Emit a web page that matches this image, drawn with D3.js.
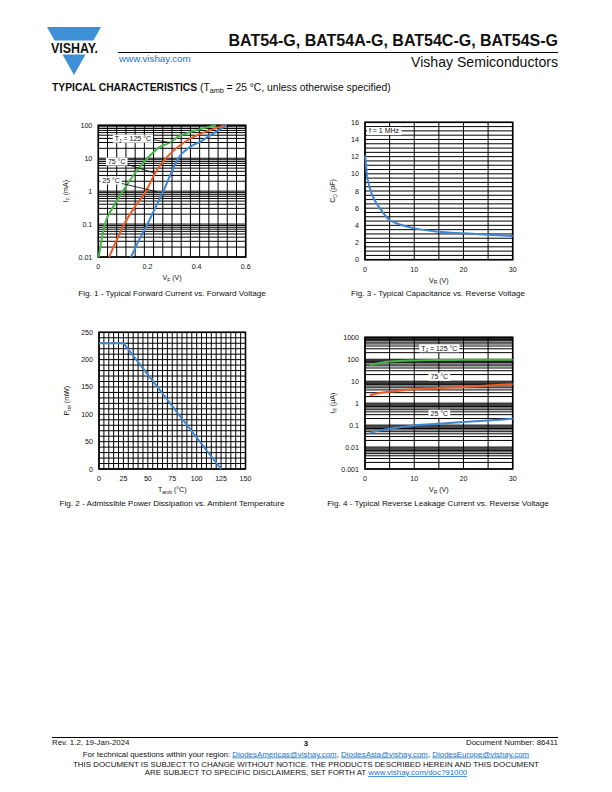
<!DOCTYPE html>
<html><head><meta charset="utf-8">
<script src="https://cdn.jsdelivr.net/npm/d3@7"></script>
<style>
body{margin:0;background:#fff}
svg{display:block}
text{font-family:"Liberation Sans",Arial,Helvetica,sans-serif;fill:#111}
</style>
</head><body>
<svg id="page" width="612" height="792"></svg>
<script>
// ---------------- DATA ----------------
// Fig. 1 - forward current vs forward voltage
const fig1XTicks = [0, 0.2, 0.4, 0.6];
const fig1YTicks = [0.01, 0.1, 1, 10, 100];
const fig1YTickLabels = ["0.01", "0.1", "1", "10", "100"];
const fig1V125 = [0.002, 0.012, 0.027, 0.061, 0.100, 0.149, 0.200, 0.251, 0.292, 0.319, 0.387, 0.440, 0.480];
const fig1I125 = [0.010, 0.030, 0.100, 0.336, 1.00, 3.50, 10.0, 22.0, 30.0, 42.0, 67.0, 85.0, 100];
const fig1V75 = [0.044, 0.075, 0.106, 0.149, 0.194, 0.231, 0.276, 0.353, 0.427, 0.480, 0.520];
const fig1I75 = [0.010, 0.033, 0.100, 0.336, 1.00, 3.50, 10.0, 31.6, 60.0, 82.0, 100];
const fig1V25 = [0.133, 0.166, 0.200, 0.234, 0.265, 0.296, 0.326, 0.373, 0.414, 0.468, 0.523];
const fig1I25 = [0.010, 0.033, 0.100, 0.336, 1.00, 3.50, 10.0, 22.0, 31.6, 57.0, 100];

// Fig. 2 - admissible power dissipation vs ambient temperature
const fig2XTicks = [0, 25, 50, 75, 100, 125, 150];
const fig2YTicks = [0, 50, 100, 150, 200, 250];
const fig2T = [0, 25, 125];
const fig2P = [230, 230, 0];

// Fig. 3 - capacitance vs reverse voltage
const fig3XTicks = [0, 10, 20, 30];
const fig3YTicks = [0, 2, 4, 6, 8, 10, 12, 14, 16];
const fig3V = [0.05, 0.34, 1.0, 2.0, 3.0, 5.0, 6.4, 10, 15, 20, 25, 30];
const fig3C = [12.1, 10.1, 8.3, 6.9, 6.0, 4.6, 4.24, 3.65, 3.26, 3.07, 2.9, 2.76];

// Fig. 4 - reverse leakage current vs reverse voltage
const fig4XTicks = [0, 10, 20, 30];
const fig4YTicks = [0.001, 0.01, 0.1, 1, 10, 100, 1000];
const fig4YTickLabels = ["0.001", "0.01", "0.1", "1", "10", "100", "1000"];
const fig4V = [1, 3, 5, 10, 15, 20, 25, 30];
const fig4I125 = [55, 68, 78, 88, 92, 94, 95, 96];
const fig4I75 = [2.3, 2.9, 3.3, 4.3, 4.9, 5.5, 6.3, 7.3];
const fig4I25 = [0.045, 0.056, 0.068, 0.097, 0.115, 0.137, 0.163, 0.194];

// ---------------- DRAWING ----------------
const svg = d3.select("#page");
svg.append("rect").attr("width", 612).attr("height", 792).attr("fill", "#fff");

const GREEN = "#46b548", ORANGE = "#f15a24", BLUE = "#3f86d3", LOGO = "#3d8fd6", LINK = "#1a73c8";
const TICK = 7.1, LBL = 7;

// rich text helper: parts = [[text, sub?], ...]
function rich(sel, parts, size) {
  let shift = 0;
  parts.forEach(p => {
    const target = p[1] ? size * 0.25 : 0;
    sel.append("tspan").text(p[0])
      .attr("font-size", p[1] ? size * 0.7 : size)
      .attr("dy", target - shift);
    shift = target;
  });
  return sel;
}

function logMinor(lo, hi) {
  const out = [];
  for (let e = Math.round(Math.log10(lo)); e < Math.round(Math.log10(hi)); e++)
    for (let k = 1; k < 10; k++) out.push(k * Math.pow(10, e));
  out.push(hi);
  return out;
}

function chart(o) {
  const g = svg.append("g");
  const x = o.x, y = o.y;
  const [x0, x1] = x.range(), [y0, y1] = y.range();
  // grid
  g.append("g").selectAll("line").data(o.xGrid).join("line")
    .attr("x1", d => x(d)).attr("x2", d => x(d)).attr("y1", y0).attr("y2", y1)
    .attr("stroke", "#000").attr("stroke-width", 1);
  g.append("g").selectAll("line").data(o.yGrid).join("line")
    .attr("y1", d => y(d)).attr("y2", d => y(d)).attr("x1", x0).attr("x2", x1)
    .attr("stroke", "#000").attr("stroke-width", 1);
  g.append("rect").attr("x", x0).attr("y", y1).attr("width", x1 - x0).attr("height", y0 - y1)
    .attr("fill", "none").attr("stroke", "#000").attr("stroke-width", 1.6);
  // tick labels
  g.append("g").selectAll("text").data(o.xTicks).join("text")
    .attr("x", d => x(d)).attr("y", y0 + 12).attr("text-anchor", "middle")
    .attr("font-size", TICK).text((d, i) => o.xLabels ? o.xLabels[i] : d);
  g.append("g").selectAll("text").data(o.yTicks).join("text")
    .attr("x", x0 - 6).attr("y", d => y(d) + 2.5).attr("text-anchor", "end")
    .attr("font-size", TICK).text((d, i) => o.yLabels ? o.yLabels[i] : d);
  // axis titles
  rich(g.append("text").attr("x", (x0 + x1) / 2).attr("y", y0 + 23).attr("text-anchor", "middle"), o.xTitle, TICK);
  rich(g.append("text").attr("transform", `translate(${x0 - 30},${(y0 + y1) / 2}) rotate(-90)`).attr("text-anchor", "middle"), o.yTitle, TICK);
  // caption
  g.append("text").attr("x", o.capX).attr("y", o.capY).attr("text-anchor", "middle")
    .attr("font-size", 8.1).text(o.caption);
  // series
  const line = d3.line().x(d => x(d[0])).y(d => y(d[1])).curve(d3.curveMonotoneX);
  const lineLin = d3.line().x(d => x(d[0])).y(d => y(d[1]));
  o.series.forEach(s => {
    g.append("path").datum(s.xs.map((v, i) => [v, s.ys[i]]))
      .attr("d", s.linear ? lineLin : line)
      .attr("fill", "none").attr("stroke", s.color).attr("stroke-width", 2).attr("stroke-linejoin", "round");
  });
  // labels
  (o.labels || []).forEach(l => {
    if (l.leader) {
      g.append("line").attr("x1", x(l.leader[0])).attr("y1", y(l.leader[1]))
        .attr("x2", x(l.leader[2])).attr("y2", y(l.leader[3]))
        .attr("stroke", "#000").attr("stroke-width", 0.8);
    }
    const cx = x(l.at[0]), cy = y(l.at[1]);
    const t = g.append("text").attr("x", cx).attr("y", cy + 2.4).attr("text-anchor", "middle");
    rich(t, l.text, LBL);
    const bb = t.node().getBBox();
    g.insert("rect", function () { return t.node(); })
      .attr("x", bb.x - 2).attr("y", cy - 4).attr("width", bb.width + 4).attr("height", 8)
      .attr("fill", "#fff");
  });
  return g;
}

// Fig 1
chart({
  x: d3.scaleLinear().domain([0, 0.6]).range([98.3, 245.7]),
  y: d3.scaleLog().domain([0.01, 100]).range([257, 125.3]),
  xGrid: d3.range(0, 0.6001, 0.0375),
  yGrid: logMinor(0.01, 100),
  xTicks: fig1XTicks, yTicks: fig1YTicks, yLabels: fig1YTickLabels,
  xTitle: [["V"], ["F", 1], [" (V)"]], yTitle: [["I"], ["F", 1], [" (mA)"]],
  caption: "Fig. 1 - Typical Forward Current vs. Forward Voltage", capX: 172, capY: 296,
  series: [
    { xs: fig1V125, ys: fig1I125, color: GREEN },
    { xs: fig1V75, ys: fig1I75, color: ORANGE },
    { xs: fig1V25, ys: fig1I25, color: BLUE }
  ],
  labels: [
    { at: [0.141, 39], text: [["T"], ["J", 1], [" = 125 °C"]], leader: [0.22, 37, 0.292, 30] },
    { at: [0.075, 7.9], text: [["75 °C"]], leader: [0.11, 6.8, 0.224, 3.6] },
    { at: [0.052, 2.1], text: [["25 °C"]], leader: [0.09, 1.75, 0.238, 0.96] }
  ]
});

// Fig 3
chart({
  x: d3.scaleLinear().domain([0, 30]).range([365, 512.7]),
  y: d3.scaleLinear().domain([0, 16]).range([259.7, 122.3]),
  xGrid: d3.range(0, 30.01, 5),
  yGrid: d3.range(0, 16.01, 0.5),
  xTicks: fig3XTicks, yTicks: fig3YTicks,
  xTitle: [["V"], ["R", 1], [" (V)"]], yTitle: [["C"], ["D", 1], [" (pF)"]],
  caption: "Fig. 3 - Typical Capacitance vs. Reverse Voltage", capX: 438, capY: 296,
  series: [{ xs: fig3V, ys: fig3C, color: BLUE }],
  labels: [{ at: [3.86, 14.98], text: [["f = 1 MHz"]] }]
});

// Fig 2
chart({
  x: d3.scaleLinear().domain([0, 150]).range([99, 245.5]),
  y: d3.scaleLinear().domain([0, 250]).range([469, 332.3]),
  xGrid: d3.range(0, 150.01, 5),
  yGrid: d3.range(0, 250.01, 10),
  xTicks: fig2XTicks, yTicks: fig2YTicks,
  xTitle: [["T"], ["amb", 1], [" (°C)"]], yTitle: [["P"], ["tot", 1], [" (mW)"]],
  caption: "Fig. 2 - Admissible Power Dissipation vs. Ambient Temperature", capX: 172, capY: 506,
  series: [{ xs: fig2T, ys: fig2P, color: BLUE, linear: true }]
});

// Fig 4
chart({
  x: d3.scaleLinear().domain([0, 30]).range([365, 512.7]),
  y: d3.scaleLog().domain([0.001, 1000]).range([469, 337.3]),
  xGrid: d3.range(0, 30.01, 5),
  yGrid: logMinor(0.001, 1000),
  xTicks: fig4XTicks, yTicks: fig4YTicks, yLabels: fig4YTickLabels,
  xTitle: [["V"], ["R", 1], [" (V)"]], yTitle: [["I"], ["R", 1], [" (µA)"]],
  caption: "Fig. 4 - Typical Reverse Leakage Current vs. Reverse Voltage", capX: 438, capY: 506,
  series: [
    { xs: fig4V, ys: fig4I125, color: GREEN },
    { xs: fig4V, ys: fig4I75, color: ORANGE },
    { xs: fig4V, ys: fig4I25, color: BLUE }
  ],
  labels: [
    { at: [15.1, 316], text: [["T"], ["J", 1], [" = 125 °C"]] },
    { at: [15.1, 16], text: [["75 °C"]] },
    { at: [15.1, 0.33], text: [["25 °C"]] }
  ]
});

// ---------------- HEADER ----------------
const hdr = svg.append("g");
const clip = svg.append("defs").append("clipPath").attr("id", "logoclip");
clip.append("rect").attr("x", 30).attr("y", 20).attr("width", 90).attr("height", 20.5);
clip.append("rect").attr("x", 30).attr("y", 54.5).attr("width", 90).attr("height", 30);
hdr.append("path").attr("d", "M47,27 L101,27 L74,75 Z").attr("fill", LOGO).attr("clip-path", "url(#logoclip)");
hdr.append("text").attr("x", 51).attr("y", 53).attr("font-size", 14.5).attr("font-weight", 900)
  .attr("textLength", 47).attr("lengthAdjust", "spacingAndGlyphs").attr("fill", "#111").text("VISHAY.");
hdr.append("text").attr("x", 558).attr("y", 46).attr("text-anchor", "end").attr("font-size", 16)
  .attr("font-weight", "bold").text("BAT54-G, BAT54A-G, BAT54C-G, BAT54S-G");
hdr.append("line").attr("x1", 118).attr("x2", 558).attr("y1", 52.5).attr("y2", 52.5).attr("stroke", "#000").attr("stroke-width", 1);
hdr.append("text").attr("x", 119).attr("y", 62).attr("font-size", 9.8).style("fill", LINK).text("www.vishay.com");
hdr.append("text").attr("x", 558).attr("y", 66.5).attr("text-anchor", "end").attr("font-size", 14.1).text("Vishay Semiconductors");
const tc = hdr.append("text").attr("x", 52).attr("y", 91);
tc.append("tspan").attr("font-size", 10.3).attr("font-weight", "bold").text("TYPICAL CHARACTERISTICS");
tc.append("tspan").attr("font-size", 10.3).text(" (T");
tc.append("tspan").attr("font-size", 7.2).attr("dy", 2.2).text("amb");
tc.append("tspan").attr("font-size", 10.3).attr("dy", -2.2).text(" = 25 °C, unless otherwise specified)");

// ---------------- FOOTER ----------------
const FS = 7.9;
const ft = svg.append("g");
ft.append("line").attr("x1", 52).attr("x2", 558).attr("y1", 737.5).attr("y2", 737.5).attr("stroke", "#000").attr("stroke-width", 1);
ft.append("text").attr("x", 52).attr("y", 745).attr("font-size", FS).text("Rev. 1.2, 19-Jan-2024");
ft.append("text").attr("x", 306).attr("y", 746).attr("text-anchor", "middle").attr("font-size", FS).attr("font-weight", "bold").text("3");
ft.append("text").attr("x", 558).attr("y", 745).attr("text-anchor", "end").attr("font-size", FS).text("Document Number: 86411");
const f2 = ft.append("text").attr("x", 306).attr("y", 756.5).attr("text-anchor", "middle").attr("font-size", FS);
f2.append("tspan").text("For technical questions within your region: ");
f2.append("tspan").style("fill", LINK).attr("text-decoration", "underline").text("DiodesAmericas@vishay.com");
f2.append("tspan").text(", ");
f2.append("tspan").style("fill", LINK).attr("text-decoration", "underline").text("DiodesAsia@vishay.com");
f2.append("tspan").text(", ");
f2.append("tspan").style("fill", LINK).attr("text-decoration", "underline").text("DiodesEurope@vishay.com");
ft.append("text").attr("x", 306).attr("y", 766.5).attr("text-anchor", "middle").attr("font-size", FS)
  .text("THIS DOCUMENT IS SUBJECT TO CHANGE WITHOUT NOTICE. THE PRODUCTS DESCRIBED HEREIN AND THIS DOCUMENT");
const f4 = ft.append("text").attr("x", 306).attr("y", 775).attr("text-anchor", "middle").attr("font-size", FS);
f4.append("tspan").text("ARE SUBJECT TO SPECIFIC DISCLAIMERS, SET FORTH AT ");
f4.append("tspan").style("fill", LINK).attr("text-decoration", "underline").text("www.vishay.com/doc?91000");
</script>
</body></html>
